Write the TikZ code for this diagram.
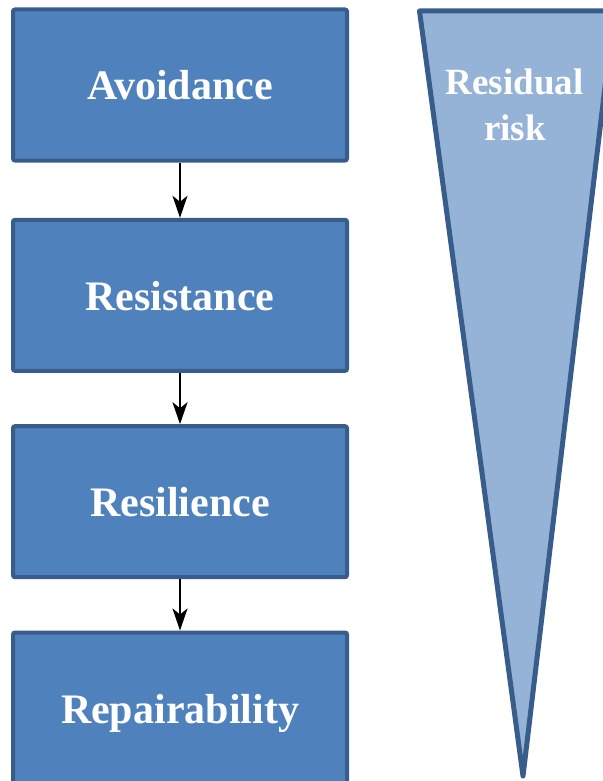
\documentclass[tikz,border=0pt]{standalone}
\usepackage{fontspec}
\setmainfont{Liberation Serif}
\usetikzlibrary{arrows.meta}
\definecolor{boxfill}{HTML}{4F81BD}
\definecolor{boxline}{HTML}{385D8A}
\definecolor{trifill}{HTML}{95B3D7}
\begin{document}
\begin{tikzpicture}[x=1pt,y=-1pt,
  stepbox/.style={draw=boxline, line width=4pt, fill=boxfill, rounded corners=2pt,
    minimum width=334pt, minimum height=151pt, inner sep=0pt, text=white,
    font=\fontsize{42}{48}\selectfont\bfseries, text height=30pt, text depth=0pt},
  flow/.style={-{Stealth[length=22pt,width=15pt,inset=6pt]}, line width=2.5pt, black},
  risktext/.style={text=white, font=\fontsize{37}{45}\selectfont\bfseries, anchor=base, inner sep=0pt}]
\useasboundingbox (0,0) rectangle (602,781);
\node[stepbox] (a) at (180,85) {Avoidance};
\node[stepbox] (b) at (180,295.3) {Resistance};
\node[stepbox] (c) at (180,501.7) {Resilience};
\node[stepbox] (d) at (180,708) {Repairability};
\draw[flow] (a.south) -- (b.north);
\draw[flow] (b.south) -- (c.north);
\draw[flow] (c.south) -- (d.north);
\draw[draw=boxline, fill=trifill, line width=5pt, line join=round] (419.5,11) -- (614,11) -- (523,776) -- cycle;
\node[risktext] (r1) at (514.5,95) {Residual};
\node[risktext] (r2) at (515,140) {risk};
\end{tikzpicture}
\end{document}
